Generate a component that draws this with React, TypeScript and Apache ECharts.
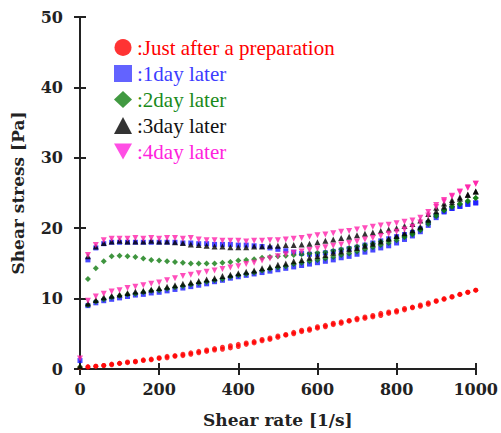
import React, { useEffect, useRef } from "react";
import * as echarts from "echarts";

// Shear rate values (1/s) for the ramp-up branch
const rates = [0, 20, 40, 60, 80, 100, 120, 140, 160, 180, 200, 220, 240, 260, 280, 300, 320, 340, 360, 380, 400, 420, 440, 460, 480, 500, 520, 540, 560, 580, 600, 620, 640, 660, 680, 700, 720, 740, 760, 780, 800, 820, 840, 860, 880, 900, 920, 940, 960, 980, 1000];
// ramp-down branch shear rates
const ratesDown = [20, 40, 60, 80, 100, 120, 140, 160, 180, 200, 220, 240, 260, 280, 300, 320, 340, 360, 380, 400, 420, 440, 460, 480, 500, 520, 540, 560, 580, 600, 620, 640, 660, 680, 700, 720, 740, 760, 780, 800, 820, 840, 860, 880, 900, 920, 940, 960, 980, 1000];

const seriesNames = ["Just after a preparation", "1day later", "2day later", "3day later", "4day later"];

const redUp = [0.2, 0.3, 0.4, 0.5, 0.6, 0.8, 0.9, 1.0, 1.2, 1.3, 1.5, 1.6, 1.8, 1.9, 2.1, 2.3, 2.5, 2.7, 2.8, 3.0, 3.2, 3.5, 3.7, 4.0, 4.2, 4.5, 4.8, 5.0, 5.3, 5.5, 5.8, 6.0, 6.3, 6.5, 6.8, 7.0, 7.2, 7.4, 7.6, 7.9, 8.1, 8.4, 8.7, 8.9, 9.2, 9.6, 9.9, 10.2, 10.6, 10.9, 11.2];
const redDown = [0.3, 0.4, 0.5, 0.7, 0.8, 1.0, 1.1, 1.3, 1.4, 1.6, 1.8, 1.9, 2.1, 2.3, 2.5, 2.7, 2.9, 3.1, 3.3, 3.5, 3.7, 3.9, 4.2, 4.4, 4.7, 4.9, 5.2, 5.5, 5.7, 6.0, 6.2, 6.5, 6.7, 6.9, 7.2, 7.4, 7.6, 7.9, 8.1, 8.3, 8.6, 8.8, 9.1, 9.4, 9.7, 10.0, 10.3, 10.6, 10.9, 11.2];

const blueUp = [1.2, 15.5, 17.2, 17.8, 18.0, 18.0, 18.0, 18.0, 18.0, 18.0, 18.0, 18.0, 18.0, 17.9, 17.9, 17.8, 17.8, 17.7, 17.7, 17.7, 17.6, 17.6, 17.5, 17.4, 17.2, 17.0, 16.8, 16.6, 16.4, 16.3, 16.3, 16.5, 16.7, 16.9, 17.1, 17.3, 17.6, 17.9, 18.2, 18.5, 18.8, 19.1, 19.4, 19.9, 20.8, 21.8, 22.4, 22.8, 23.1, 23.4, 23.6];
const blueDown = [9.0, 9.4, 9.7, 9.9, 10.1, 10.3, 10.5, 10.6, 10.8, 10.9, 11.1, 11.3, 11.5, 11.7, 11.9, 12.1, 12.4, 12.6, 12.9, 13.1, 13.3, 13.5, 13.7, 13.9, 14.1, 14.3, 14.5, 14.7, 14.9, 15.1, 15.3, 15.5, 15.8, 16.0, 16.3, 16.6, 16.9, 17.2, 17.5, 17.9, 18.4, 18.9, 19.5, 20.4, 21.5, 22.3, 22.8, 23.1, 23.4, 23.6];

const greenUp = [0.3, 12.8, 14.3, 15.3, 16.0, 16.1, 16.0, 15.9, 15.7, 15.5, 15.4, 15.3, 15.2, 15.1, 15.0, 15.0, 15.0, 15.0, 15.1, 15.2, 15.4, 15.5, 15.6, 15.8, 15.9, 16.0, 16.1, 16.2, 16.3, 16.4, 16.5, 16.6, 16.8, 17.0, 17.2, 17.4, 17.6, 17.8, 18.1, 18.3, 18.6, 18.9, 19.3, 19.9, 20.9, 21.9, 22.6, 23.1, 23.5, 23.9, 24.3];
const greenDown = [9.1, 9.6, 9.9, 10.2, 10.4, 10.6, 10.7, 10.9, 11.1, 11.2, 11.4, 11.6, 11.8, 12.0, 12.2, 12.4, 12.6, 12.8, 13.1, 13.3, 13.5, 13.7, 14.0, 14.2, 14.4, 14.6, 14.9, 15.1, 15.3, 15.5, 15.7, 15.9, 16.2, 16.4, 16.7, 17.0, 17.3, 17.6, 17.9, 18.3, 18.7, 19.1, 19.7, 20.6, 21.7, 22.5, 23.0, 23.4, 23.8, 24.3];

const blackUp = [0.4, 16.0, 17.4, 17.9, 18.1, 18.2, 18.1, 18.1, 18.1, 18.2, 18.1, 18.1, 18.0, 17.9, 17.7, 17.6, 17.5, 17.4, 17.4, 17.3, 17.3, 17.3, 17.4, 17.4, 17.5, 17.5, 17.6, 17.6, 17.7, 17.8, 18.0, 18.2, 18.4, 18.6, 18.8, 19.0, 19.2, 19.4, 19.6, 19.8, 20.0, 20.3, 20.6, 21.1, 22.0, 22.9, 23.5, 24.0, 24.4, 24.8, 25.2];
const blackDown = [9.3, 9.8, 10.2, 10.4, 10.6, 10.8, 11.0, 11.1, 11.3, 11.5, 11.7, 11.9, 12.1, 12.3, 12.5, 12.7, 12.9, 13.2, 13.4, 13.6, 13.8, 14.0, 14.3, 14.5, 14.8, 15.0, 15.3, 15.5, 15.8, 16.0, 16.2, 16.5, 16.7, 17.0, 17.2, 17.5, 17.8, 18.1, 18.5, 18.9, 19.3, 19.7, 20.2, 21.2, 22.4, 23.1, 23.7, 24.2, 24.7, 25.2];

const pinkUp = [1.5, 16.2, 17.6, 18.3, 18.5, 18.5, 18.5, 18.6, 18.5, 18.6, 18.5, 18.6, 18.6, 18.5, 18.6, 18.4, 18.3, 18.3, 18.2, 18.2, 18.2, 18.1, 18.2, 18.2, 18.3, 18.3, 18.4, 18.5, 18.6, 18.8, 19.0, 19.1, 19.3, 19.5, 19.6, 19.8, 20.0, 20.2, 20.4, 20.5, 20.7, 20.9, 21.1, 21.5, 22.3, 23.3, 24.0, 24.6, 25.2, 25.8, 26.3];
const pinkDown = [9.7, 10.3, 10.7, 11.0, 11.2, 11.5, 11.7, 11.9, 12.1, 12.3, 12.6, 12.9, 13.2, 13.4, 13.6, 13.8, 14.0, 14.2, 14.4, 14.6, 14.9, 15.1, 15.4, 15.7, 16.0, 16.3, 16.5, 16.7, 16.9, 17.1, 17.3, 17.5, 17.7, 17.9, 18.1, 18.4, 18.6, 18.9, 19.2, 19.5, 19.8, 20.2, 20.8, 21.8, 23.0, 23.8, 24.5, 25.1, 25.7, 26.3];

const xTicks = [0, 200, 400, 600, 800, 1000];
const yTicks = [0, 10, 20, 30, 40, 50];

const downTri = "path://M0,0 L10,0 L5,9 Z";

export default function App() {
  const ref = useRef<HTMLDivElement>(null);
  useEffect(() => {
    if (!ref.current) return;
    const chart = echarts.init(ref.current, null, { renderer: "svg" });
    const colors = ["#ff0000", "#1a1aff", "#0f7a0f", "#000000", "#ff22aa"];
    const legendIcon = ["#ff0000", "#3c3cff", "#128012", "#000000", "#ff22dd"];
    const legendText = ["#ff0000", "#3c3cff", "#1a8a1a", "#111111", "#ff22dd"];
    const symbols = ["circle", "rect", "diamond", "triangle", downTri];
    const sizes = [5, 5, 6, 6, 6];
    const ups = [redUp, blueUp, greenUp, blackUp, pinkUp];
    const downs = [redDown, blueDown, greenDown, blackDown, pinkDown];
    const series: any[] = [];
    seriesNames.forEach((name, k) => {
      [
        rates.map((x, i) => [x, ups[k][i]]),
        ratesDown.map((x, i) => [x, downs[k][i]]),
      ].forEach((data) => {
        series.push({
          type: "scatter",
          name,
          data,
          symbol: symbols[k],
          symbolSize: sizes[k],
          itemStyle: { color: colors[k] },
          xAxisIndex: 0,
          yAxisIndex: 0,
        });
      });
    });
    const tickFont = { fontFamily: "DejaVu Serif", fontWeight: "bold", fontSize: 16, color: "#222" };
    const axisLine = { show: true, lineStyle: { color: "#222", width: 2 } };
    const axisTick = { show: true, inside: true, length: 6, lineStyle: { color: "#222", width: 2 } };
    const legendFont = { fontFamily: "'Liberation Serif', 'Times New Roman', serif", fontSize: 21, lineHeight: 21 };
    chart.setOption({
      animation: false,
      backgroundColor: "#fff",
      grid: { left: 80, right: 25, top: 17, bottom: 61, containLabel: false },
      legend: {
        orient: "vertical",
        left: 109,
        top: 32,
        itemWidth: 18,
        itemHeight: 17,
        itemGap: 5,
        selectedMode: false,
        formatter: (n: string) => ":" + n,
        textStyle: { ...legendFont },
        data: seriesNames.map((n, k) => ({
          name: n,
          icon: symbols[k],
          itemStyle: { color: legendIcon[k] },
          textStyle: { ...legendFont, color: legendText[k] },
        })),
      },
      xAxis: [
        {
          type: "value",
          min: xTicks[0],
          max: xTicks[xTicks.length - 1],
          interval: 200,
          name: "Shear rate [1/s]",
          nameLocation: "middle",
          nameGap: 42,
          nameTextStyle: { ...tickFont, fontSize: 17 },
          axisLine,
          axisTick,
          axisLabel: { ...tickFont, margin: 12, formatter: (v: number) => String(v) },
          splitLine: { show: false },
        },
        {
          type: "value",
          position: "top",
          min: xTicks[0],
          max: xTicks[xTicks.length - 1],
          interval: 200,
          axisLine,
          axisTick,
          axisLabel: { show: false },
          splitLine: { show: false },
        },
      ],
      yAxis: [
        {
          type: "value",
          min: yTicks[0],
          max: yTicks[yTicks.length - 1],
          interval: 10,
          name: "Shear stress [Pa]",
          nameLocation: "middle",
          nameGap: 54,
          nameTextStyle: { ...tickFont, fontSize: 17 },
          axisLine,
          axisTick,
          axisLabel: { ...tickFont, margin: 17, formatter: (v: number) => String(v) },
          splitLine: { show: false },
        },
        {
          type: "value",
          position: "right",
          min: yTicks[0],
          max: yTicks[yTicks.length - 1],
          interval: 10,
          axisLine,
          axisTick,
          axisLabel: { show: false },
          splitLine: { show: false },
        },
      ],
      series,
    });
    return () => chart.dispose();
  }, []);
  return (
    <div
      ref={ref}
      style={{ position: "fixed", left: 0, top: 0, width: 501, height: 433 }}
    />
  );
}
